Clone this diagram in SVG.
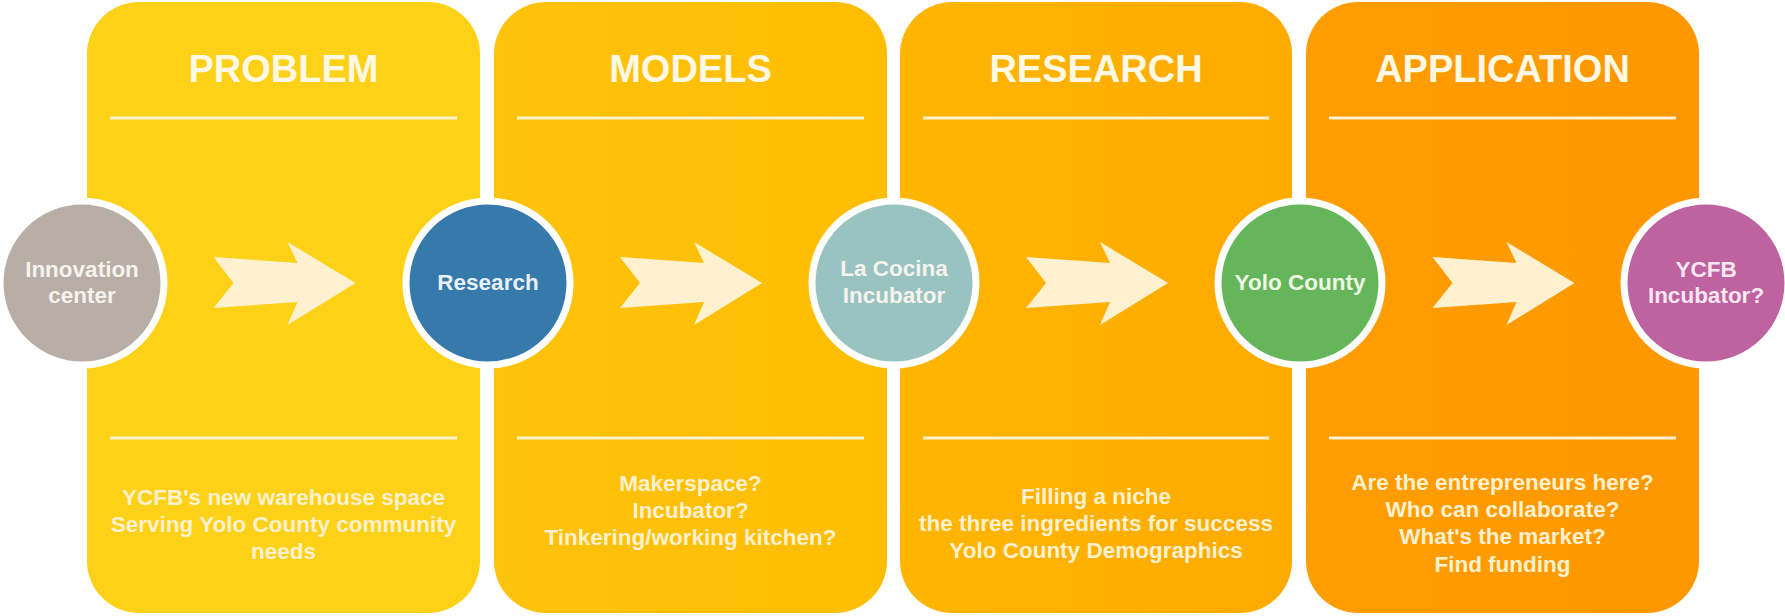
<svg xmlns="http://www.w3.org/2000/svg" width="1785" height="616" viewBox="0 0 1785 616">
  <defs>
    <linearGradient id="g2" x1="0" y1="0" x2="1" y2="0">
      <stop offset="0" stop-color="#FEC30C"/>
      <stop offset="1" stop-color="#FEBD02"/>
    </linearGradient>
    <linearGradient id="g3" x1="0" y1="0" x2="1" y2="0">
      <stop offset="0" stop-color="#FFB600"/>
      <stop offset="1" stop-color="#FFAA00"/>
    </linearGradient>
    <linearGradient id="g4" x1="0" y1="0" x2="1" y2="0">
      <stop offset="0" stop-color="#FF9E00"/>
      <stop offset="1" stop-color="#FF9700"/>
    </linearGradient>
    <path id="arrow" d="M-70.5,-26 L13.5,-20 L3.5,-41 L71.5,0 L3.5,42 L13.5,19 L-70.5,25 L-50.5,0 Z"/>
  </defs>
  <style>
    .title { font-family: "Liberation Sans", Arial, sans-serif; font-weight: bold; font-size: 38px; fill: #FFF8E4; text-anchor: middle; }
    .body { font-family: "Liberation Sans", Arial, sans-serif; font-weight: bold; font-size: 22.5px; fill: #FFF1D0; text-anchor: middle; }
    .sep { stroke: #FFF2CE; stroke-width: 3; }
    .ring { stroke: #FFFFFF; stroke-width: 7; }
    .node { font-family: "Liberation Sans", Arial, sans-serif; font-weight: bold; font-size: 22.5px; fill: #F6F3EE; text-anchor: middle; }
    .arr { fill: #FEF1CF; }
  </style>
  <rect width="1785" height="616" fill="#FFFFFF"/>

  <g id="panel-problem">
    <rect x="87" y="2" width="393" height="611" rx="52" fill="#FCD117"/>
    <text class="title" x="283.5" y="82">PROBLEM</text>
    <line class="sep" x1="110" y1="118" x2="457" y2="118"/>
    <line class="sep" x1="110" y1="438" x2="457" y2="438"/>
    <text class="body" x="283.5" y="505">YCFB's new warehouse space</text>
    <text class="body" x="283.5" y="532">Serving Yolo County community</text>
    <text class="body" x="283.5" y="559">needs</text>
  </g>

  <g id="panel-models">
    <rect x="494" y="2" width="393" height="611" rx="52" fill="url(#g2)"/>
    <text class="title" x="690.5" y="82">MODELS</text>
    <line class="sep" x1="517" y1="118" x2="864" y2="118"/>
    <line class="sep" x1="517" y1="438" x2="864" y2="438"/>
    <text class="body" x="690.5" y="491">Makerspace?</text>
    <text class="body" x="690.5" y="518">Incubator?</text>
    <text class="body" x="690.5" y="545">Tinkering/working kitchen?</text>
  </g>

  <g id="panel-research">
    <rect x="900" y="2" width="392" height="611" rx="52" fill="url(#g3)"/>
    <text class="title" x="1096" y="82">RESEARCH</text>
    <line class="sep" x1="923" y1="118" x2="1269" y2="118"/>
    <line class="sep" x1="923" y1="438" x2="1269" y2="438"/>
    <text class="body" x="1096" y="504">Filling a niche</text>
    <text class="body" x="1096" y="531">the three ingredients for success</text>
    <text class="body" x="1096" y="558">Yolo County Demographics</text>
  </g>

  <g id="panel-application">
    <rect x="1306" y="2" width="393" height="611" rx="52" fill="url(#g4)"/>
    <text class="title" x="1502.5" y="82">APPLICATION</text>
    <line class="sep" x1="1329" y1="118" x2="1676" y2="118"/>
    <line class="sep" x1="1329" y1="438" x2="1676" y2="438"/>
    <text class="body" x="1502.5" y="490">Are the entrepreneurs here?</text>
    <text class="body" x="1502.5" y="517">Who can collaborate?</text>
    <text class="body" x="1502.5" y="544">What's the market?</text>
    <text class="body" x="1502.5" y="572">Find funding</text>
  </g>

  <g id="connectors">
    <use href="#arrow" class="arr" transform="translate(284,283)"/>
    <use href="#arrow" class="arr" transform="translate(690.5,283)"/>
    <use href="#arrow" class="arr" transform="translate(1096.5,283)"/>
    <use href="#arrow" class="arr" transform="translate(1503,283)"/>
  </g>

  <g id="node-innovation">
    <circle class="ring" cx="82" cy="283" r="82" fill="#B9AEA5"/>
    <text class="node" x="82" y="277">Innovation</text>
    <text class="node" x="82" y="303">center</text>
  </g>
  <g id="node-research">
    <circle class="ring" cx="488" cy="283" r="82" fill="#367AAC"/>
    <text class="node" x="488" y="290" fill="#E8EFF5" style="fill:#E8EFF5">Research</text>
  </g>
  <g id="node-lacocina">
    <circle class="ring" cx="894" cy="283" r="82" fill="#98C3C1"/>
    <text class="node" x="894" y="276">La Cocina</text>
    <text class="node" x="894" y="303">Incubator</text>
  </g>
  <g id="node-yolo">
    <circle class="ring" cx="1300" cy="283" r="82" fill="#65B65A"/>
    <text class="node" x="1300" y="290" style="fill:#EEF6E6">Yolo County</text>
  </g>
  <g id="node-ycfb">
    <circle class="ring" cx="1706" cy="283" r="82" fill="#BE62A0"/>
    <text class="node" x="1706" y="277" style="fill:#F8E6F0">YCFB</text>
    <text class="node" x="1706" y="303" style="fill:#F8E6F0">Incubator?</text>
  </g>
</svg>
